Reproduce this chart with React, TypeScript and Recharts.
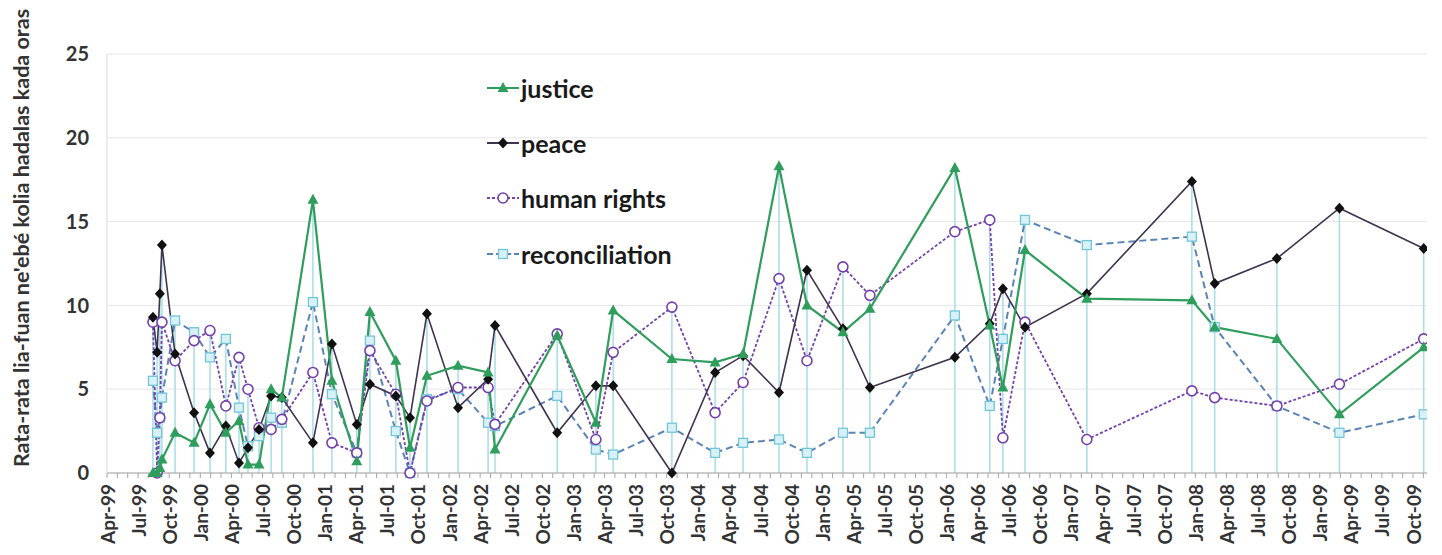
import React from "react";
import { LineChart, Line, XAxis, YAxis, CartesianGrid, ReferenceLine, Legend, Label } from "recharts";

// dates of each measured speech (drop lines sit on these)
const dates = [
  "1999-08-14", "1999-08-26", "1999-09-04", "1999-09-10", "1999-10-18", "1999-12-13",
  "2000-01-29", "2000-03-15", "2000-04-23", "2000-05-19", "2000-06-21", "2000-07-26",
  "2000-08-27", "2000-11-27", "2001-01-22", "2001-04-04", "2001-05-12", "2001-07-27",
  "2001-09-08", "2001-10-27", "2002-01-27", "2002-04-24", "2002-05-14", "2002-11-14",
  "2003-03-06", "2003-04-26", "2003-10-16", "2004-02-21", "2004-05-12", "2004-08-26",
  "2004-11-17", "2005-03-01", "2005-05-19", "2006-01-25", "2006-05-06", "2006-06-14",
  "2006-08-18", "2007-02-17", "2007-12-21", "2008-02-27", "2008-08-27", "2009-02-28",
  "2009-11-02",
];

const justice = [
  0, 0, 0.3, 0.8, 2.4, 1.8, 4.1, 2.4, 3.1, 0.5, 0.5, 5.0, 4.5, 16.3, 5.5, 0.7, 9.6, 6.7,
  1.5, 5.8, 6.4, 6.0, 1.4, 8.2, 3.0, 9.7, 6.8, 6.6, 7.1, 18.3, 10.0, 8.4, 9.8, 18.2, 8.8,
  5.1, 13.3, 10.4, 10.3, 8.7, 8.0, 3.5, 7.5,
];
const peace = [
  9.3, 7.2, 10.7, 13.6, 7.1, 3.6, 1.2, 2.8, 0.6, 1.5, 2.6, 4.6, 4.5, 1.8, 7.7, 2.9, 5.3, 4.6,
  3.3, 9.5, 3.9, 5.6, 8.8, 2.4, 5.2, 5.2, 0, 6.0, 7.0, 4.8, 12.1, 8.6, 5.1, 6.9, 8.9,
  11.0, 8.7, 10.7, 17.4, 11.3, 12.8, 15.8, 13.4,
];
const humanRights = [
  9.0, 0, 3.3, 9.0, 6.7, 7.9, 8.5, 4.0, 6.9, 5.0, 2.7, 2.6, 3.2, 6.0, 1.8, 1.2, 7.3, 4.7,
  0, 4.3, 5.1, 5.1, 2.9, 8.3, 2.0, 7.2, 9.9, 3.6, 5.4, 11.6, 6.7, 12.3, 10.6, 14.4, 15.1,
  2.1, 9.0, 2.0, 4.9, 4.5, 4.0, 5.3, 8.0,
];
const reconciliation = [
  5.5, 2.4, 3.3, 4.5, 9.1, 8.4, 6.9, 8.0, 3.9, 1.6, 2.2, 3.3, 3.0, 10.2, 4.7, 1.2, 7.9, 2.5,
  0, 4.4, 5.0, 3.0, 2.8, 4.6, 1.4, 1.1, 2.7, 1.2, 1.8, 2.0, 1.2, 2.4, 2.4, 9.4, 4.0,
  8.0, 15.1, 13.6, 14.1, 8.7, 4.0, 2.4, 3.5,
];

const quarterLabels = [
  "Apr-99", "Jul-99", "Oct-99", "Jan-00", "Apr-00", "Jul-00", "Oct-00", "Jan-01", "Apr-01",
  "Jul-01", "Oct-01", "Jan-02", "Apr-02", "Jul-02", "Oct-02", "Jan-03", "Apr-03", "Jul-03",
  "Oct-03", "Jan-04", "Apr-04", "Jul-04", "Oct-04", "Jan-05", "Apr-05", "Jul-05", "Oct-05",
  "Jan-06", "Apr-06", "Jul-06", "Oct-06", "Jan-07", "Apr-07", "Jul-07", "Oct-07", "Jan-08",
  "Apr-08", "Jul-08", "Oct-08", "Jan-09", "Apr-09", "Jul-09", "Oct-09",
];
const yTicks = [0, 5, 10, 15, 20, 25];

const MONTHS = ["Jan", "Feb", "Mar", "Apr", "May", "Jun", "Jul", "Aug", "Sep", "Oct", "Nov", "Dec"];

// months since Jan 1999
const toMonth = (d: string) => {
  const [y, mo, da] = d.split("-").map(Number);
  return (y - 1999) * 12 + (mo - 1) + (da - 1) / 30;
};
const labelToMonth = (l: string) => {
  const [mon, yy] = l.split("-");
  const year = Number(yy) < 50 ? 2000 + Number(yy) : 1900 + Number(yy);
  return (year - 1999) * 12 + MONTHS.indexOf(mon);
};

const data = dates.map((d, i) => ({
  m: toMonth(d),
  justice: justice[i],
  peace: peace[i],
  humanRights: humanRights[i],
  reconciliation: reconciliation[i],
  top: Math.max(justice[i], peace[i], humanRights[i], reconciliation[i]),
}));

const labelByMonth = new Map(quarterLabels.map((l) => [labelToMonth(l), l]));
const firstTick = labelToMonth(quarterLabels[0]);
const lastTick = labelToMonth(quarterLabels[quarterLabels.length - 1]);
const monthTicks: number[] = [];
for (let t = firstTick; t <= lastTick + 1; t++) monthTicks.push(t);

const GREEN = "#2f9d5c";
const PEACE_LINE = "#3f3450";
const PURPLE = "#7440ad";
const RECON_LINE = "#5b84b6";
const RECON_MARK = "#72c6d8";
const DROP = "#a8dce6";
const FONT = "Lato, 'Open Sans', sans-serif";

const Triangle = (p: any) => {
  const { cx, cy, index } = p;
  if (cx == null || cy == null) return <g key={index} />;
  return <path key={index} d={`M${cx},${cy - 6} L${cx + 5.5},${cy + 4} L${cx - 5.5},${cy + 4} Z`} fill={GREEN} />;
};
const Diamond = (p: any) => {
  const { cx, cy, index } = p;
  if (cx == null || cy == null) return <g key={index} />;
  return <path key={index} d={`M${cx},${cy - 5.5} L${cx + 5},${cy} L${cx},${cy + 5.5} L${cx - 5},${cy} Z`} fill="#111" />;
};
const Ring = (p: any) => {
  const { cx, cy, index } = p;
  if (cx == null || cy == null) return <g key={index} />;
  return <circle key={index} cx={cx} cy={cy} r={5} fill="#fff" stroke={PURPLE} strokeWidth={1.6} />;
};
const Square = (p: any) => {
  const { cx, cy, index } = p;
  if (cx == null || cy == null) return <g key={index} />;
  return <rect key={index} x={cx - 4.5} y={cy - 4.5} width={9} height={9} fill="#d8f1f6" stroke={RECON_MARK} strokeWidth={1.3} />;
};

const XTick = (props: any) => {
  const { x, y, payload } = props;
  const label = labelByMonth.get(payload.value);
  if (!label) return <g />;
  return (
    <text
      x={x}
      y={y}
      transform={`rotate(-90 ${x} ${y})`}
      textAnchor="end"
      dominantBaseline="central"
      fontFamily={FONT}
      fontWeight={700}
      fontSize={19}
      fill="#333"
    >
      {label}
    </text>
  );
};

const legendItems = [
  { name: "justice", color: GREEN, dash: undefined, Mark: Triangle },
  { name: "peace", color: PEACE_LINE, dash: undefined, Mark: Diamond },
  { name: "human rights", color: PURPLE, dash: "3 2", Mark: Ring },
  { name: "reconciliation", color: RECON_LINE, dash: "6 3", Mark: Square },
];

const renderLegend = () => (
  <div style={{ fontFamily: FONT, fontWeight: 700, fontSize: 25, color: "#1a1a1a" }}>
    {legendItems.map(({ name, color, dash, Mark }) => (
      <div key={name} style={{ height: 55.3, display: "flex", alignItems: "center" }}>
        <svg width={32} height={20} style={{ marginRight: 2 }}>
          <line x1={0} y1={10} x2={32} y2={10} stroke={color} strokeWidth={2} strokeDasharray={dash} />
          <Mark cx={16} cy={10} index={0} />
        </svg>
        <span>{name}</span>
      </div>
    ))}
  </div>
);

export default function App() {
  return (
    <div style={{ position: "absolute", left: 0, top: 0, background: "#fff" }}>
      <LineChart
        width={1442}
        height={555}
        data={data}
        margin={{ top: 54, right: 15, bottom: 2, left: 52 }}
      >
        <CartesianGrid vertical={false} stroke="#e6e6e6" />
        {data.map((d) => (
          <ReferenceLine
            key={d.m}
            segment={[{ x: d.m, y: 0 }, { x: d.m, y: d.top }]}
            stroke={DROP}
            strokeWidth={1.5}
          />
        ))}
        <XAxis
          dataKey="m"
          type="number"
          domain={[firstTick, 130.35]}
          ticks={monthTicks}
          interval={0}
          tick={<XTick />}
          tickSize={5}
          tickMargin={6}
          stroke="#a6a6a6"
          height={80}
          allowDataOverflow
        />
        <YAxis
          domain={[0, 25]}
          ticks={yTicks}
          width={55}
          tickSize={0}
          tickMargin={18}
          axisLine={{ stroke: "#d9d9d9" }}
          tick={{ fontFamily: FONT, fontWeight: 700, fontSize: 20, fill: "#333" }}
        >
          <Label
            content={() => (
              <text
                x={21}
                y={238}
                transform="rotate(-90 21 238)"
                textAnchor="middle"
                dominantBaseline="central"
                fontFamily={FONT}
                fontWeight={700}
                fontSize={21.5}
                fill="#333"
              >
                Rata-rata lia-fuan ne'ebé kolia hadalas kada oras
              </text>
            )}
          />
        </YAxis>
        <Legend
          content={renderLegend}
          layout="horizontal"
          verticalAlign="middle"
          align="center"
          wrapperStyle={{ left: 487, top: 60, width: 260 }}
        />
        <Line type="linear" dataKey="reconciliation" stroke={RECON_LINE} strokeWidth={2} strokeDasharray="7 4" dot={Square} isAnimationActive={false} />
        <Line type="linear" dataKey="humanRights" stroke={PURPLE} strokeWidth={1.8} strokeDasharray="3 2" dot={Ring} isAnimationActive={false} />
        <Line type="linear" dataKey="peace" stroke={PEACE_LINE} strokeWidth={1.6} dot={Diamond} isAnimationActive={false} />
        <Line type="linear" dataKey="justice" stroke={GREEN} strokeWidth={2.2} dot={Triangle} isAnimationActive={false} />
      </LineChart>
    </div>
  );
}
